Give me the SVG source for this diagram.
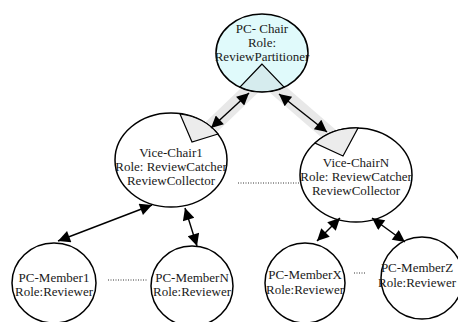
<svg xmlns="http://www.w3.org/2000/svg" width="458" height="322" viewBox="0 0 458 322">
  <style>
    .node { stroke: #000; stroke-width: 1.5; fill: #fff; }
    .chair { fill: #e0fafb; }
    .wedge { stroke: #000; stroke-width: 1.2; fill: #ececec; }
    .wedge-chair { fill: #d6ecee; }
    .band { stroke: #d9d9d9; stroke-opacity: 0.6; stroke-width: 15; stroke-linecap: round; fill: none; }
    .link { stroke: #000; stroke-width: 1.4; fill: none; marker-start: url(#head); marker-end: url(#head); }
    .dots { stroke: #000; stroke-width: 0.8; stroke-dasharray: 1 1.5; fill: none; }
    text { font-family: "Liberation Serif", "Times New Roman", serif; font-size: 13px; fill: #1a1a1a; text-anchor: middle; }
  </style>
  <defs>
    <marker id="head" viewBox="0 0 10 10" refX="10" refY="5" markerWidth="14" markerHeight="12" markerUnits="userSpaceOnUse" orient="auto-start-reverse">
      <path d="M0,0 L10,5 L0,10 Z" fill="#000"/>
    </marker>
  </defs>

  <!-- highlighted paths between the chairs -->
  <g id="bands">
    <line class="band" x1="203" y1="135" x2="252" y2="88"/>
    <line class="band" x1="276" y1="88" x2="336" y2="140"/>
  </g>

  <g id="pc-chair">
    <ellipse class="node chair" cx="262" cy="53" rx="46" ry="39"/>
    <path class="wedge wedge-chair" d="M262,64 L240,87 A46,39 0 0 0 284,87 Z"/>
    <text x="262" y="33">PC- Chair</text>
    <text x="262" y="47">Role:</text>
    <text x="262" y="61">ReviewPartitioner</text>
  </g>

  <g id="vice-chair-1">
    <ellipse class="node" cx="171" cy="160" rx="56" ry="47"/>
    <path class="wedge" d="M192,142 L180,114 A56,47 0 0 1 218,134 Z"/>
    <text x="171" y="157">Vice-Chair1</text>
    <text x="171" y="171">Role: ReviewCatcher</text>
    <text x="171" y="185">ReviewCollector</text>
  </g>

  <g id="vice-chair-n">
    <ellipse class="node" cx="356" cy="175" rx="56" ry="47"/>
    <path class="wedge" d="M343,156 L315,143 A56,47 0 0 1 358,128 Z"/>
    <text x="356" y="167">Vice-ChairN</text>
    <text x="356" y="181">Role: ReviewCatcher</text>
    <text x="356" y="195">ReviewCollector</text>
  </g>

  <g id="pc-member-1">
    <ellipse class="node" cx="54" cy="283" rx="42" ry="40"/>
    <text x="54" y="282">PC-Member1</text>
    <text x="54" y="296">Role:Reviewer</text>
  </g>

  <g id="pc-member-n">
    <ellipse class="node" cx="192" cy="286" rx="41" ry="40"/>
    <text x="192" y="282">PC-MemberN</text>
    <text x="192" y="296">Role:Reviewer</text>
  </g>

  <g id="pc-member-x">
    <ellipse class="node" cx="305" cy="283" rx="40" ry="40"/>
    <text x="305" y="279">PC-MemberX</text>
    <text x="305" y="294">Role:Reviewer</text>
  </g>

  <g id="pc-member-z">
    <ellipse class="node" cx="422" cy="278" rx="41" ry="41"/>
    <text x="417" y="272">PC-MemberZ</text>
    <text x="417" y="287">Role:Reviewer</text>
  </g>

  <g id="connectors">
    <line class="link" x1="211" y1="128" x2="249" y2="93"/>
    <line class="link" x1="279" y1="94" x2="327" y2="132"/>
    <line class="link" x1="152" y1="205" x2="58" y2="241"/>
    <line class="link" x1="185" y1="208" x2="197" y2="246"/>
    <line class="link" x1="340" y1="218" x2="317" y2="241"/>
    <line class="link" x1="372" y1="218" x2="405" y2="242"/>
    <line class="dots" x1="238" y1="183" x2="300" y2="183"/>
    <line class="dots" x1="108" y1="280" x2="147" y2="280"/>
    <line class="dots" x1="354" y1="273" x2="366" y2="273"/>
  </g>
</svg>
